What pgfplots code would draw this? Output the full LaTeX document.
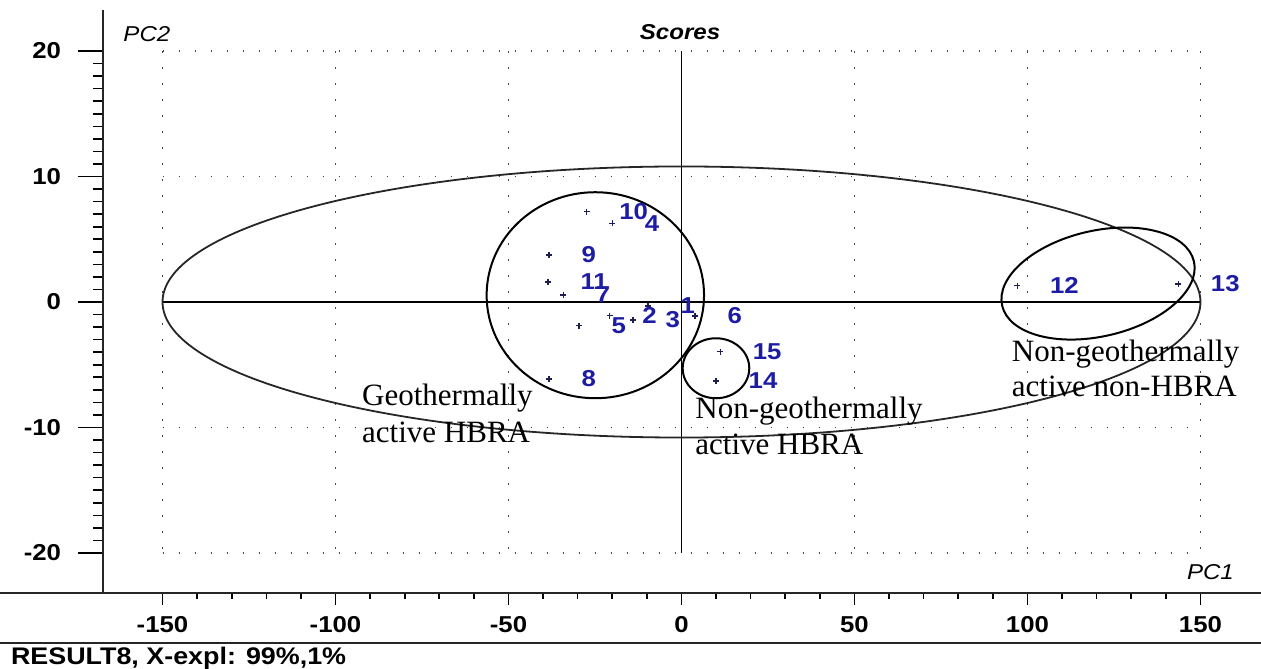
\documentclass[border=0pt]{standalone}
\usepackage{pgfplots}
\usepackage{pgfplotstable}
\pgfplotsset{compat=1.18}
\usepackage{fontspec}
\setmainfont{Liberation Serif}
\newfontfamily\uifont{Liberation Sans}[FakeStretch=1.12]
\definecolor{labblue}{RGB}{28,28,165}
\definecolor{markc}{RGB}{30,30,80}
\definecolor{dotc}{RGB}{70,70,70}
\newcommand*\tickfont{\uifont\bfseries\fontsize{11.5}{12}\selectfont}
\newcommand*\notefont{\fontsize{15.5}{18}\selectfont}

% PCA scores: PC1, PC2, sample number
\pgfplotstableread{
x      y      lab
-9.7   -0.32  1
-20.7  -1.10  2
-14.0  -1.43  3
-20.0   6.27  4
-29.6  -1.89  5
 3.9   -1.12  6
-34.2   0.56  7
-38.3  -6.14  8
-38.3   3.75  9
-27.4   7.20  10
-38.6   1.60  11
 97.1   1.30  12
143.6   1.43  13
 10.0  -6.30  14
 11.2  -3.96  15
}\scores

\begin{document}
\begin{tikzpicture}
\begin{axis}[
  scale only axis, width=579pt, height=291.5pt,
  xmin=-167.2, xmax=167.5, ymin=-23.19, ymax=23.27,
  axis lines=left, axis line style={-, line width=1pt, black!85},
  tick align=outside,
  xtick={-150,-100,...,150}, xticklabels={-150,-100,-50,0,50,100,150},
  minor xtick={-140,-130,...,140},
  ytick={-20,-10,0,10,20}, yticklabels={-20,-10,0,10,20},
  minor ytick={-19,-18,...,19},
  xtick style={/pgfplots/major tick length=6pt, /pgfplots/minor tick length=3pt, black, line width=0.8pt},
  ytick style={/pgfplots/major tick length=12.5pt, /pgfplots/minor tick length=5pt, black, line width=0.8pt},
  xticklabel style={font=\tickfont, inner sep=0pt, anchor=north, yshift=-7.5pt},
  yticklabel style={font=\tickfont, inner sep=0pt, anchor=east, xshift=-16.5pt},
  clip=false,
]
% dotted grid
\begin{scope}[dotc, line width=0.85pt, dash pattern=on 0.85pt off 7.15pt]
  \draw (axis cs:-150,20) -- (axis cs:150,20);
  \draw (axis cs:-150,10) -- (axis cs:150,10);
  \draw (axis cs:-150,-10) -- (axis cs:150,-10);
  \draw (axis cs:-150,-20) -- (axis cs:150,-20);
  \draw (axis cs:-150,20) -- (axis cs:-150,-20);
  \draw (axis cs:-100,20) -- (axis cs:-100,-20);
  \draw (axis cs:-50,20) -- (axis cs:-50,-20);
  \draw (axis cs:50,20) -- (axis cs:50,-20);
  \draw (axis cs:100,20) -- (axis cs:100,-20);
  \draw (axis cs:150,20) -- (axis cs:150,-20);
\end{scope}
% origin cross
\draw[black, line width=0.9pt] (axis cs:-150,0) -- (axis cs:150,0);
\draw[black, line width=0.9pt] (axis cs:0,-20) -- (axis cs:0,20);
% confidence ellipse
\draw[black!85, line width=0.9pt] (axis cs:0,0) ellipse [x radius=150, y radius=10.8];

\addplot[only marks, mark=+, mark size=1.5pt, markc, mark options={line width=0.6pt},
  nodes near coords, point meta=explicit symbolic,
  nodes near coords style={anchor=west, xshift=16pt, inner sep=0pt, font=\tickfont, text=labblue}]
  table[x=x, y=y, meta=lab]{\scores};

% group outlines
\draw[black, line width=1pt] (axis cs:-24.9,0.54) ellipse [x radius=54.35pt, y radius=51.5pt];
\draw[black, line width=1pt] (axis cs:9.97,-5.28) ellipse [x radius=16.65pt, y radius=15pt];
\coordinate (e3) at (axis cs:120.4,1.47);

% group notes
\node[anchor=base west, inner sep=0pt, font=\notefont] at (axis cs:-92.4,-8.21) {Geothermally};
\node[anchor=base west, inner sep=0pt, font=\notefont] at (axis cs:-92.4,-11.16) {active HBRA};
\node[anchor=base west, inner sep=0pt, font=\notefont] at (axis cs:3.9,-9.32) {Non-geothermally};
\node[anchor=base west, inner sep=0pt, font=\notefont] at (axis cs:3.9,-12.19) {active HBRA};
\node[anchor=base west, inner sep=0pt, font=\notefont] at (axis cs:95.4,-4.76) {Non-geothermally};
\node[anchor=base west, inner sep=0pt, font=\notefont] at (axis cs:95.4,-7.55) {active non-HBRA};

% axis captions
\node[anchor=base west, inner sep=0pt, font=\uifont\itshape\fontsize{10.75}{12}\selectfont] at (axis cs:-161.4,20.74) {PC2};
\node[anchor=base, inner sep=0pt, font=\uifont\bfseries\itshape\fontsize{10.75}{12}\selectfont] at (axis cs:-0.43,20.93) {Scores};
\node[anchor=base west, inner sep=0pt, font=\uifont\itshape\fontsize{10.75}{12}\selectfont] at (axis cs:146.0,-22.1) {PC1};
\node[anchor=base west, inner sep=0pt, font=\uifont\bfseries\fontsize{12}{13}\selectfont] at (axis cs:-193.9,-28.92) {RESULT8, X-expl: 99\%,1\%};

% frame rules across the full width
\draw[line width=1pt, black!85] (axis cs:-197,-23.19) -- (rel axis cs:0,0);
\draw[line width=1pt, black!85] (axis cs:-197,-27.17) -- (axis cs:167.5,-27.17);
\end{axis}
\draw[black, line width=1pt, rotate around={13:(e3)}] (e3) ellipse [x radius=49.2pt, y radius=26.4pt];
\pgfresetboundingbox
\path ([xshift=-51.5pt, yshift=-37.5pt]current axis.south west) rectangle ([yshift=5pt]current axis.north east);
\end{tikzpicture}
\end{document}
